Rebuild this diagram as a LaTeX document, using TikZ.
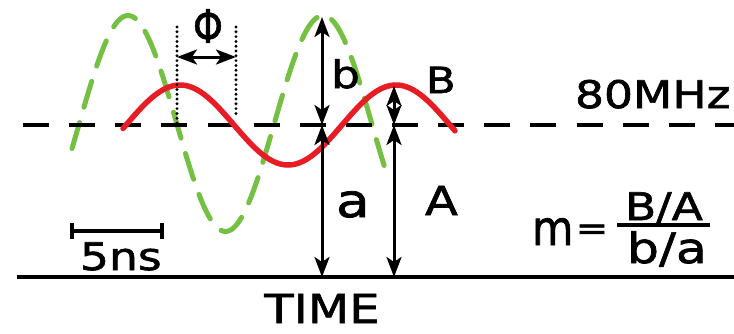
\documentclass[tikz,border=0pt]{standalone}
\usepackage{fontspec}
\setmainfont{DejaVu Sans}[FakeStretch=1.2,FakeBold=1.6]
\usetikzlibrary{arrows.meta}
\definecolor{sigred}{RGB}{232,28,36}
\definecolor{siggreen}{RGB}{116,192,67}
\begin{document}
\begin{tikzpicture}[x=1pt,y=-1pt,
  lbl/.style={inner sep=0pt, outer sep=0pt},
  tipstyle/.style={},
  dimarrow/.style={line width=3pt, {Stealth[length=20pt 0,width=15pt 0,inset=5pt]}-{Stealth[length=20pt 0,width=15pt 0,inset=5pt]}},
  dotline/.style={line width=3.2pt, line cap=round, dash pattern=on 0pt off 4.8pt},
  refline/.style={line width=3.8pt, dash pattern=on 26pt off 20.13pt},
  axisline/.style={line width=4pt},
  redwave/.style={sigred, line width=5.5pt, line cap=round},
  greenwave/.style={siggreen, line width=5pt, line cap=round, dash pattern=on 27pt off 16pt}]
\useasboundingbox (0,0) rectangle (734,333);
% coordinates
\coordinate (dl1) at (23,125);
\coordinate (dl2) at (734,125);
\coordinate (ax1) at (17,277);
\coordinate (ax2) at (734,277);
\coordinate (gpk) at (322,17);
\coordinate (bbot) at (322,125);
\coordinate (abot) at (322,277);
\coordinate (rpk) at (394,86);
\coordinate (Bbot) at (394,125);
\coordinate (Abot) at (394,277);
\coordinate (d1t) at (177,27);
\coordinate (d1b) at (177,127);
\coordinate (d2t) at (236,27);
\coordinate (d2b) at (236,115);
\coordinate (p1) at (177,57);
\coordinate (p2) at (236,57);
\coordinate (s1) at (72,231);
\coordinate (s2) at (162,231);
\coordinate (fb1) at (617,225);
\coordinate (fb2) at (710,225);
% waves
\draw[greenwave] plot[domain=72:385, samples=160] (\x, {123.5-108*sin(1.84615*(\x-79.25))});
\draw[refline] (dl1) -- (dl2);
\draw[redwave] plot[domain=123:455, samples=160] (\x, {125-40*sin(1.66667*(\x-126))});
\draw[axisline] (ax1) -- (ax2);
% dotted guides and phase arrow
\draw[dotline] (d1t) -- (d1b);
\draw[dotline] (d2t) -- (d2b);
\draw[dimarrow] (p1) -- (p2);
% amplitude arrows
\draw[dimarrow] (gpk) -- (bbot);
\draw[dimarrow] (bbot) -- (abot);
\draw[dimarrow] (rpk) -- (Bbot);
\draw[dimarrow] (Bbot) -- (Abot);
% scale bar
\draw[line width=3.2pt] (s1) -- (s2);
\draw[line width=3.2pt] ([yshift=-8pt]s1) -- ([yshift=8pt]s1);
\draw[line width=3.2pt] ([yshift=-8pt]s2) -- ([yshift=8pt]s2);
\draw[line width=3.2pt] (fb1) -- (fb2);
% labels
\node[lbl, anchor=center] (phi) at (208,26) {\scalebox{0.72}[1.05]{\fontsize{44}{44}\selectfont Φ}};
\node[lbl, anchor=base west] (lb) at (331,88) {\fontsize{38}{38}\selectfont b};
\node[lbl, anchor=base west] (la) at (336,217) {\fontsize{46}{46}\selectfont a};
\node[lbl, anchor=base west] (lB) at (426,93) {\fontsize{36}{36}\selectfont B};
\node[lbl, anchor=base west] (lA) at (425,215) {\fontsize{40}{40}\selectfont A};
\node[lbl, anchor=base west] (freq) at (575,108) {\fontsize{38}{38}\selectfont 80MHz};
\node[lbl, anchor=base west] (ns) at (80,270) {\fontsize{38}{38}\selectfont 5ns};
\node[lbl, anchor=base] (time) at (322,323) {\fontsize{40}{40}\selectfont TIME};
\node[lbl, anchor=base west] (m) at (532,245) {\scalebox{0.74}[1]{\fontsize{48}{48}\selectfont m}};
\node[lbl, anchor=center] (eq) at (592,232) {\fontsize{32}{32}\selectfont =};
\node[lbl, anchor=base west] (num) at (625,220) {\fontsize{38}{38}\selectfont B/A};
\node[lbl, anchor=base west] (den) at (627,263) {\fontsize{42}{42}\selectfont b/a};
\end{tikzpicture}
\end{document}
